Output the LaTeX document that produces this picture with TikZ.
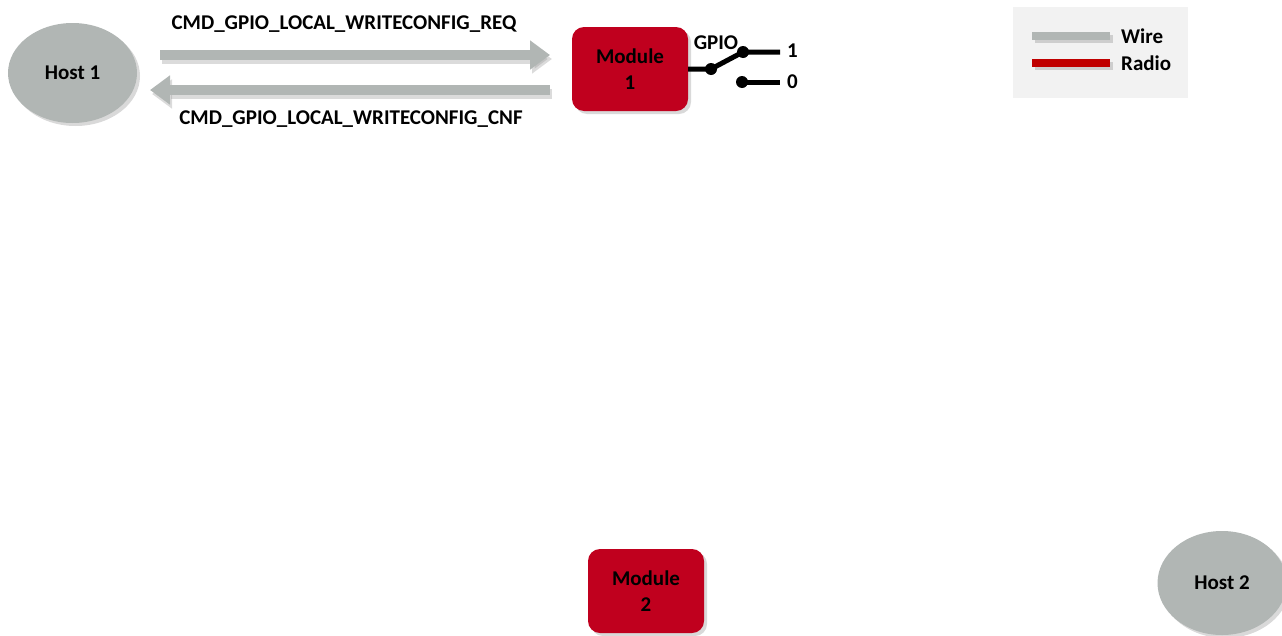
\documentclass[tikz,border=0pt]{standalone}
\usepackage{fontspec}
\setmainfont{Carlito}
\usetikzlibrary{shapes.geometric,shadows,arrows.meta}
\definecolor{hostgray}{HTML}{B1B6B4}
\definecolor{modred}{HTML}{C0001E}
\definecolor{wiregray}{HTML}{B1B6B4}
\definecolor{radiored}{HTML}{C00000}
\definecolor{legbg}{HTML}{F2F2F2}
\tikzset{
  x=1pt,y=-1pt,
  host/.style={ellipse,fill=hostgray,minimum width=129pt,minimum height=100pt,inner sep=0pt,font=\bfseries\fontsize{21}{26}\selectfont,drop shadow={shadow xshift=3pt,shadow yshift=-3pt,opacity=0.3}},
  module/.style={rectangle,rounded corners=12pt,fill=modred,minimum width=116pt,minimum height=84pt,inner sep=0pt,align=center,font=\bfseries\fontsize{21}{26}\selectfont,drop shadow={shadow xshift=3pt,shadow yshift=-3pt,opacity=0.3}},
  msg/.style={font=\bfseries\fontsize{21}{24}\selectfont,inner sep=0pt},
  wirearrow/.style={draw=wiregray,line width=10pt,-{Triangle[length=20pt,width=28pt]}},
  sw/.style={line width=5pt,black},
  dot/.style={circle,fill=black,minimum size=12pt,inner sep=0pt},
  lbl/.style={font=\bfseries\fontsize{21}{24}\selectfont,inner sep=0pt},
}
\begin{document}
\begin{tikzpicture}
\useasboundingbox (0,0) rectangle (1282,635);
% Legend
\node[fill=legbg,minimum width=175pt,minimum height=91pt,inner sep=0pt] (legend) at (1100.5,52.5) {};
\coordinate (wa) at (1032,36); \coordinate (wb) at (1110,36);
\coordinate (ra) at (1032,63); \coordinate (rb) at (1110,63);
\draw[line width=8pt,black!40,opacity=0.4] ([shift={(3,3)}]wa) -- ([shift={(3,3)}]wb);
\draw[line width=8pt,wiregray] (wa) -- (wb);
\draw[line width=8pt,black!40,opacity=0.4] ([shift={(3,3)}]ra) -- ([shift={(3,3)}]rb);
\draw[line width=8pt,radiored] (ra) -- (rb);
\node[lbl,anchor=west] (wirel) at (1121,36) {Wire};
\node[lbl,anchor=west] (radiol) at (1121,63) {Radio};
% Nodes
\node[host] (h1) at (72.5,73) {Host 1};
\node[host,minimum height=104pt] (h2) at (1222,583) {Host 2};
\node[module] (m1) at (630,69) {Module\\1};
\node[module] (m2) at (646,591) {Module\\2};
% Arrows
\coordinate (a1s) at (160,55); \coordinate (a1e) at (550,55);
\coordinate (a2s) at (550,90); \coordinate (a2e) at (150,90);
\draw[wirearrow,draw=black!40,opacity=0.35] ([shift={(2,4)}]a1s) -- ([shift={(2,4)}]a1e);
\draw[wirearrow] (a1s) -- (a1e);
\draw[wirearrow,draw=black!40,opacity=0.35] ([shift={(2,4)}]a2s) -- ([shift={(2,4)}]a2e);
\draw[wirearrow] (a2s) -- (a2e);
\node[msg] (req) at (344,24) {CMD\_GPIO\_LOCAL\_WRITECONFIG\_REQ};
\node[msg] (cnf) at (351,119) {CMD\_GPIO\_LOCAL\_WRITECONFIG\_CNF};
% Switch
\node[dot] (d0) at (711,69) {};
\node[dot] (d1) at (743,52) {};
\node[dot] (d2) at (742,82) {};
\coordinate (t1) at (780,52);
\coordinate (t0) at (780,82);
\draw[sw] (m1.east |- d0) -- (d0.center) -- (d1.center) -- (t1);
\draw[sw] (d2.center) -- (t0);
\node[lbl] (gpio) at (716,43) {GPIO};
\node[lbl,anchor=west] (one) at (787,51) {1};
\node[lbl,anchor=west] (zero) at (787,82) {0};
\end{tikzpicture}
\end{document}
